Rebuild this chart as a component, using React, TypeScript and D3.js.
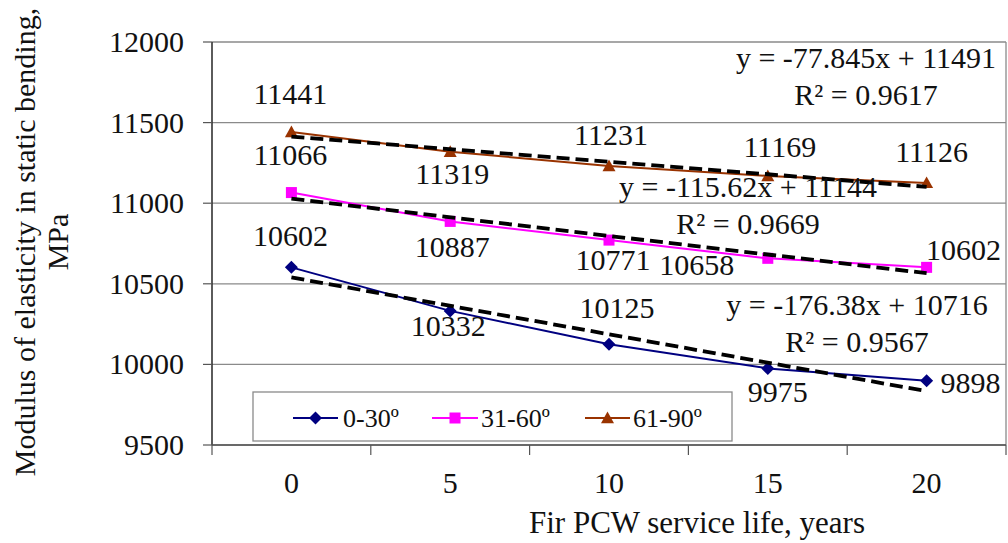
import React from "react";
import * as d3 from "d3";

const years = [0, 5, 10, 15, 20];
const yTicks = [9500, 10000, 10500, 11000, 11500, 12000];
const seriesNames = ["0-30º", "31-60º", "61-90º"];
const s0_30 = [10602, 10332, 10125, 9975, 9898];
const s31_60 = [11066, 10887, 10771, 10658, 10602];
const s61_90 = [11441, 11319, 11231, 11169, 11126];
const trendSlopes = [-176.38, -115.62, -77.845];
const trendIntercepts = [10716, 11144, 11491];
const trendR2 = [0.9567, 0.9669, 0.9617];

const colors = ["#000080", "#FF00FF", "#993300"];
const markerTypes = ["diamond", "square", "triangle"];

// label offsets (dx, dy) relative to each point: layout only
const labelOffsets = [
  [[-1, -21], [-2, 25], [8, -26], [10, 34], [44, 12]],
  [[-1, -28], [2, 36], [4, 30], [-71, 17], [37, -7]],
  [[-1, -28], [2, 32], [2, -21], [12, -19], [5, -21]],
];
// equation label anchors (center x, baseline of first line)
const eqPos = [[857, 315], [748, 197], [866, 68]];

const W = 1008, H = 543;
const FONT = "'Liberation Serif', 'Times New Roman', serif";

export default function App() {
  const left = 212, right = 1006, top = 42, bottom = 445;
  const x = d3.scaleBand<number>().domain(years).range([left, right]).padding(0);
  const y = d3.scaleLinear().domain([9500, 12000]).range([bottom, top]);
  const cx = (i: number) => (x(years[i]) as number) + x.bandwidth() / 2;
  const series = [s0_30, s31_60, s61_90];
  const line = d3.line<number>().x((_, i) => cx(i)).y((v) => y(v));

  const marker = (type: string, px: number, py: number, color: string, key: string) => {
    if (type === "diamond") {
      const r = 6.5;
      return <path key={key} d={`M${px},${py - r}L${px + r},${py}L${px},${py + r}L${px - r},${py}Z`} fill={color} />;
    }
    if (type === "square") {
      const r = 5.5;
      return <rect key={key} x={px - r} y={py - r} width={2 * r} height={2 * r} fill={color} />;
    }
    const r = 6.5;
    return <path key={key} d={`M${px},${py - r}L${px + r},${py + r * 0.8}L${px - r},${py + r * 0.8}Z`} fill={color} />;
  };

  const boundaries = [...years.map((yr) => x(yr) as number), right];

  const legendItems = [
    { lx1: 293, lx2: 338, tx: 343 },
    { lx1: 432, lx2: 478, tx: 481 },
    { lx1: 585, lx2: 630, tx: 633 },
  ];
  const legendY = 418;

  return (
    <svg width={W} height={H} style={{ position: "absolute", left: 0, top: 0, background: "#fff" }} fontFamily={FONT}>
      <rect x={0} y={0} width={W} height={H} fill="#fff" />
      {yTicks.map((t) => (
        <line key={"g" + t} x1={left} x2={right} y1={y(t)} y2={y(t)} stroke="#8a8a8a" strokeWidth={1.3} />
      ))}
      <line x1={right} x2={right} y1={top} y2={bottom} stroke="#8a8a8a" strokeWidth={1.3} />
      <line x1={left} x2={left} y1={top} y2={bottom} stroke="#333" strokeWidth={1.6} />
      <line x1={left} x2={right} y1={bottom} y2={bottom} stroke="#555" strokeWidth={1.6} />
      {yTicks.map((t) => (
        <g key={"yt" + t}>
          <line x1={left - 9} x2={left} y1={y(t)} y2={y(t)} stroke="#555" strokeWidth={1.2} />
          <text x={184} y={y(t) + 10} textAnchor="end" fontSize={30} fill="#111">{t}</text>
        </g>
      ))}
      {boundaries.map((b, i) => (
        <line key={"xt" + i} x1={b} x2={b} y1={bottom} y2={bottom + 10} stroke="#555" strokeWidth={1.2} />
      ))}
      {years.map((yr, i) => (
        <text key={"xl" + yr} x={cx(i)} y={493} textAnchor="middle" fontSize={30} fill="#111">{yr}</text>
      ))}
      <text x={697} y={533} textAnchor="middle" fontSize={31} fill="#111">Fir PCW service life, years</text>
      <g transform="translate(35,242) rotate(-90)">
        <text x={0} y={0} textAnchor="middle" fontSize={30} fill="#111">Modulus of elasticity in static bending,</text>
        <text x={0} y={33} textAnchor="middle" fontSize={30} fill="#111">MPa</text>
      </g>
      {series.map((s, k) => (
        <g key={"s" + k}>
          <path d={line(s) as string} fill="none" stroke={colors[k]} strokeWidth={2} />
          {s.map((v, i) => marker(markerTypes[k], cx(i), y(v), colors[k], `m${k}-${i}`))}
        </g>
      ))}
      {series.map((s, k) => {
        const f = (i: number) => trendSlopes[k] * (i + 1) + trendIntercepts[k];
        const n = s.length - 1;
        return (
          <line key={"tr" + k} x1={cx(0)} y1={y(f(0))} x2={cx(n)} y2={y(f(n))}
            stroke="#000" strokeWidth={3.8} strokeDasharray="13,6" />
        );
      })}
      {series.map((s, k) =>
        s.map((v, i) => (
          <text key={`dl${k}-${i}`} x={cx(i) + labelOffsets[k][i][0]} y={y(v) + labelOffsets[k][i][1]}
            textAnchor="middle" fontSize={30} fill="#111">{v}</text>
        ))
      )}
      {series.map((_, k) => {
        const sl = trendSlopes[k];
        const eq = `y = ${sl}x + ${trendIntercepts[k]}`;
        return (
          <g key={"eq" + k}>
            <text x={eqPos[k][0]} y={eqPos[k][1]} textAnchor="middle" fontSize={30} fill="#111">{eq}</text>
            <text x={eqPos[k][0]} y={eqPos[k][1] + 37} textAnchor="middle" fontSize={30} fill="#111">{`R² = ${trendR2[k]}`}</text>
          </g>
        );
      })}
      <rect x={253} y={392} width={479} height={49} fill="#fff" stroke="#8a8a8a" strokeWidth={1.3} />
      {seriesNames.map((nm, k) => (
        <g key={"lg" + k}>
          <line x1={legendItems[k].lx1} x2={legendItems[k].lx2} y1={legendY} y2={legendY} stroke={colors[k]} strokeWidth={2} />
          {marker(markerTypes[k], (legendItems[k].lx1 + legendItems[k].lx2) / 2, legendY, colors[k], "lm" + k)}
          <text x={legendItems[k].tx} y={legendY + 9} fontSize={26} fill="#111">{nm}</text>
        </g>
      ))}
    </svg>
  );
}
